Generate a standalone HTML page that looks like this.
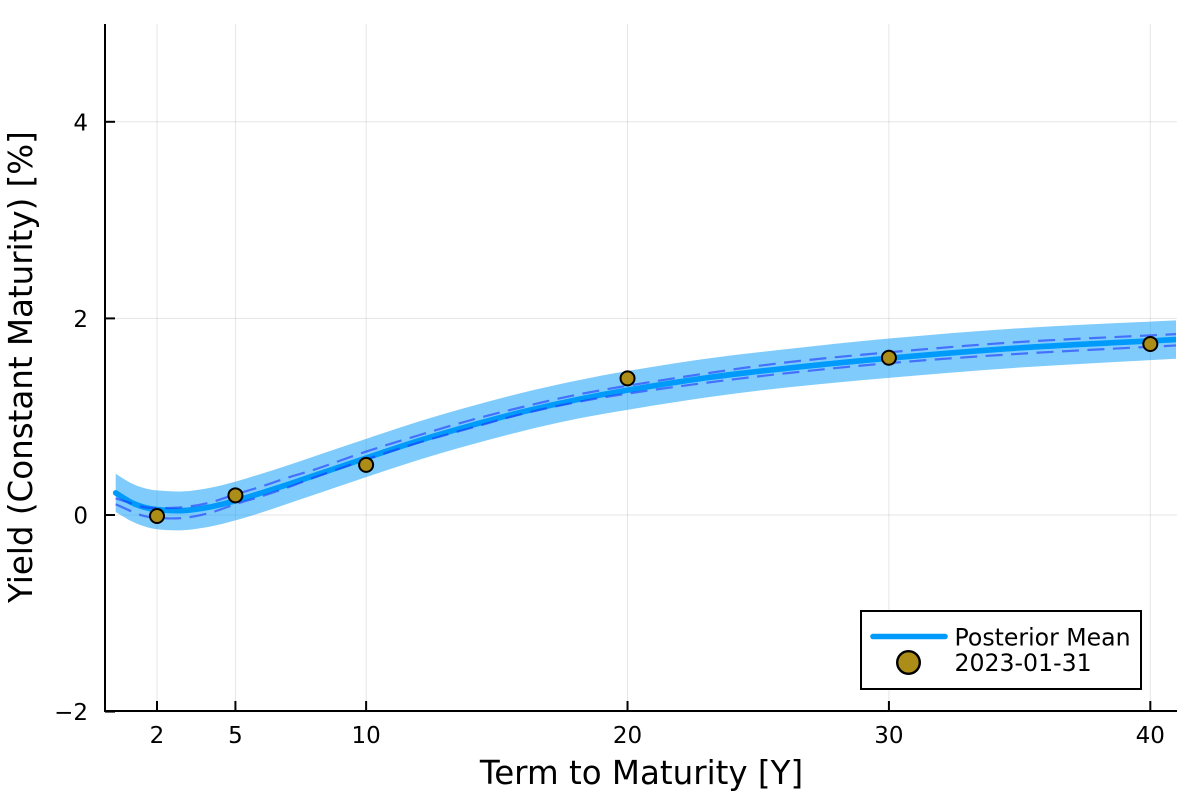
<!DOCTYPE html>
<html>
<head>
<meta charset="utf-8">
<style>
html,body{margin:0;padding:0;background:#fff;width:1200px;height:800px;overflow:hidden}
svg{display:block}
text{font-family:"DejaVu Sans","Liberation Sans",sans-serif;fill:#000}
</style>
</head>
<body>
<svg id="chart" width="1200" height="800" viewBox="0 0 1200 800" xmlns="http://www.w3.org/2000/svg">
<defs><clipPath id="plot-clip"><rect x="105" y="24" width="1071" height="687"/></clipPath></defs>
<rect width="1200" height="800" fill="#fff"/>
<g id="grid"></g>
<g id="series" clip-path="url(#plot-clip)"></g>
<g id="axes"></g>
<text x="641.5" y="784" font-size="32.5" text-anchor="middle">Term to Maturity [Y]</text>
<text transform="translate(32,367) rotate(-90)" font-size="32.5" text-anchor="middle">Yield (Constant Maturity) [%]</text>
<g>
<rect x="861" y="611" width="280" height="78" fill="#fff" stroke="#000" stroke-width="2"/>
<line x1="873" y1="636.5" x2="945" y2="636.5" stroke="#009AFA" stroke-width="5.6" stroke-linecap="round"/>
<text x="954.5" y="645.5" font-size="23.6">Posterior Mean</text>
<circle cx="908.5" cy="662.5" r="11.3" fill="#AC8D18" stroke="#000" stroke-width="2.4"/>
<text x="954.5" y="671" font-size="23.6">2023-01-31</text>
</g>
</svg>
<script>
const xTicks = [2, 5, 10, 20, 30, 40];
const yTicks = [-2, 0, 2, 4];
const yTickLabels = ["\u22122", "0", "2", "4"];
const terms = [0.42, 1, 1.5, 2, 3, 4, 5, 6, 7, 8, 10, 12, 14, 16, 18, 20, 23, 26, 30, 35, 41];
const posteriorMean = [0.225, 0.13, 0.08, 0.055, 0.045, 0.08, 0.145, 0.225, 0.31, 0.40, 0.58, 0.755, 0.91, 1.05, 1.17, 1.27, 1.395, 1.49, 1.595, 1.70, 1.785];
const bandUpper = [0.42, 0.325, 0.275, 0.25, 0.24, 0.275, 0.34, 0.42, 0.505, 0.595, 0.775, 0.95, 1.105, 1.245, 1.365, 1.465, 1.59, 1.685, 1.795, 1.90, 1.98];
const bandLower = [0.03, -0.06, -0.115, -0.145, -0.155, -0.12, -0.055, 0.025, 0.115, 0.205, 0.385, 0.56, 0.715, 0.855, 0.975, 1.07, 1.195, 1.295, 1.395, 1.50, 1.59];
const dashedUpper = [0.17, 0.12, 0.08, 0.07, 0.08, 0.125, 0.21, 0.29, 0.38, 0.46, 0.645, 0.81, 0.965, 1.10, 1.22, 1.315, 1.44, 1.55, 1.655, 1.76, 1.84];
const dashedLower = [0.11, 0.04, -0.01, -0.03, -0.03, 0.02, 0.11, 0.19, 0.28, 0.38, 0.565, 0.735, 0.885, 1.03, 1.145, 1.235, 1.345, 1.44, 1.545, 1.64, 1.725];
const obsTerms = [2, 5, 10, 20, 30, 40];
const obsYields = [-0.01, 0.20, 0.51, 1.39, 1.60, 1.74];

const NS = 'http://www.w3.org/2000/svg';
const left = 105, right = 1177, top_ = 24, bottom = 711;
function sx(v){ return 157 + (v - 2) * 26.14; }
function sy(v){ return 515 - v * 98.3; }
function mk(tag, attrs, parent){
  const el = document.createElementNS(NS, tag);
  for (const k in attrs) el.setAttribute(k, attrs[k]);
  parent.appendChild(el);
  return el;
}
function smooth(xs, ys, move){
  const P = xs.map((x, i) => [sx(x), sy(ys[i])]);
  let d = (move ? 'M' : 'L') + P[0][0].toFixed(2) + ' ' + P[0][1].toFixed(2);
  for (let i = 0; i < P.length - 1; i++){
    const p0 = P[Math.max(i - 1, 0)], p1 = P[i], p2 = P[i + 1], p3 = P[Math.min(i + 2, P.length - 1)];
    const h = p2[0] - p1[0];
    const m1 = (p2[1] - p0[1]) / (p2[0] - p0[0]);
    const m2 = (p3[1] - p1[1]) / (p3[0] - p1[0]);
    d += 'C' + (p1[0] + h / 3).toFixed(2) + ' ' + (p1[1] + m1 * h / 3).toFixed(2) + ' ' +
         (p2[0] - h / 3).toFixed(2) + ' ' + (p2[1] - m2 * h / 3).toFixed(2) + ' ' +
         p2[0].toFixed(2) + ' ' + p2[1].toFixed(2);
  }
  return d;
}
const grid = document.getElementById('grid');
const series = document.getElementById('series');
const axes = document.getElementById('axes');

xTicks.forEach(function(t){
  const g = mk('line', {x1: sx(t), x2: sx(t), y1: top_, y2: bottom, stroke: '#000', 'stroke-opacity': 0.1, 'stroke-width': 1}, grid);
  
  
});
yTicks.forEach(function(t){
  const g = mk('line', {x1: left, x2: right, y1: sy(t), y2: sy(t), stroke: '#000', 'stroke-opacity': 0.1, 'stroke-width': 1}, grid);
  
  
});

const revTerms = terms.slice().reverse();
const revLower = bandLower.slice().reverse();
const band = mk('path', {d: smooth(terms, bandUpper, true) + smooth(revTerms, revLower, false) + 'Z', fill: '#009AFA', 'fill-opacity': 0.5, stroke: 'none'}, series);



const meanLine = mk('path', {d: smooth(terms, posteriorMean, true), fill: 'none', stroke: '#009AFA', 'stroke-width': 5.6, 'stroke-linecap': 'round'}, series);



const dashU = mk('path', {d: smooth(terms, dashedUpper, true), fill: 'none', stroke: '#1a34ff', 'stroke-opacity': 0.6, 'stroke-width': 2.2, 'stroke-dasharray': '17 8.5'}, series);



const dashL = mk('path', {d: smooth(terms, dashedLower, true), fill: 'none', stroke: '#1a34ff', 'stroke-opacity': 0.6, 'stroke-width': 2.2, 'stroke-dasharray': '17 8.5'}, series);



obsTerms.forEach(function(t, i){
  const c = mk('circle', {cx: sx(t), cy: sy(obsYields[i]), r: 7, fill: '#AC8D18', stroke: '#000', 'stroke-width': 2}, series);
  
  
});

const xAxisLine = mk('line', {x1: left - 1, x2: right, y1: bottom, y2: bottom, stroke: '#000', 'stroke-width': 2}, axes);


const yAxisLine = mk('line', {x1: left, x2: left, y1: top_, y2: bottom + 1, stroke: '#000', 'stroke-width': 2}, axes);



xTicks.forEach(function(t){
  const k = mk('line', {x1: sx(t), x2: sx(t), y1: bottom, y2: bottom - 10, stroke: '#000', 'stroke-width': 2}, axes);
  
  
  const l = mk('text', {x: sx(t), y: 743, 'font-size': 23, 'text-anchor': 'middle'}, axes);
  l.textContent = String(t);
  
  
});
yTicks.forEach(function(t, i){
  const k = mk('line', {x1: left, x2: left + 10, y1: sy(t), y2: sy(t), stroke: '#000', 'stroke-width': 2}, axes);
  
  
  const l = mk('text', {x: 88, y: sy(t) + 8.5, 'font-size': 23, 'text-anchor': 'end'}, axes);
  l.textContent = yTickLabels[i];
  
  
});
</script>
</body>
</html>
